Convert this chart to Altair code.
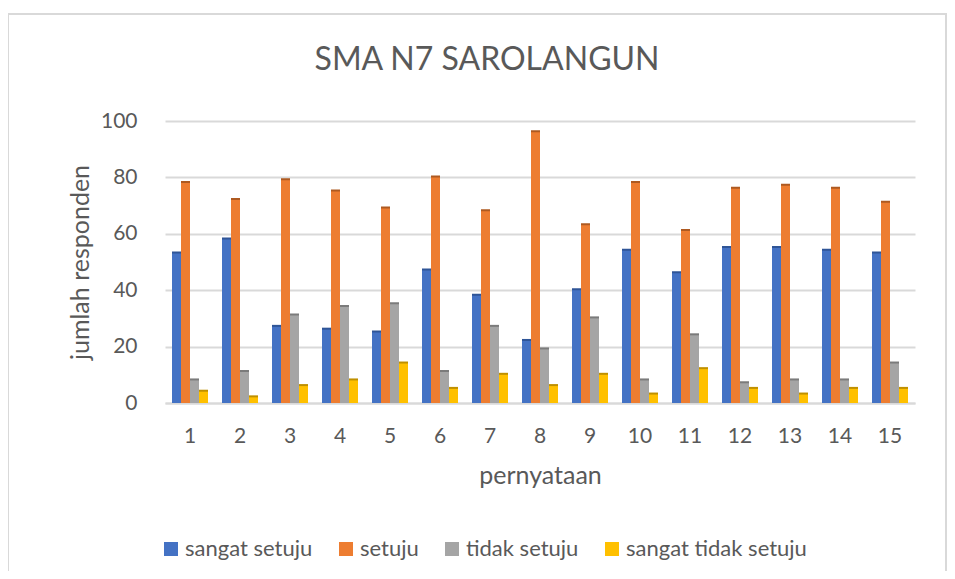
import altair as alt
import pandas as pd

judul = "SMA N7 SAROLANGUN"
pernyataan = [str(i) for i in range(1, 16)]
series = ["sangat setuju", "setuju", "tidak setuju", "sangat tidak setuju"]
colors = ["#4472C4", "#ED7D31", "#A5A5A5", "#FFC000"]
dark_colors = ["#2F5597", "#AE5A21", "#7B7B7B", "#BF9000"]
sangat_setuju = [53, 58, 27, 26, 25, 47, 38, 22, 40, 54, 46, 55, 55, 54, 53]
setuju = [78, 72, 79, 75, 69, 80, 68, 96, 63, 78, 61, 76, 77, 76, 71]
tidak_setuju = [8, 11, 31, 34, 35, 11, 27, 19, 30, 8, 24, 7, 8, 8, 14]
sangat_tidak_setuju = [4, 2, 6, 8, 14, 5, 10, 6, 10, 3, 12, 5, 3, 5, 5]

rows = []
for s, vals in zip(series, [sangat_setuju, setuju, tidak_setuju, sangat_tidak_setuju]):
    for p, v in zip(pernyataan, vals):
        rows.append({"pernyataan": p, "seri": s, "nilai": v})
df = pd.DataFrame(rows)

font = "Lato"
grey = "#595959"

x_enc = alt.X("pernyataan:N", sort=pernyataan, title="pernyataan",
              scale=alt.Scale(paddingInner=0.28, paddingOuter=0.14),
              axis=alt.Axis(labelAngle=0, labelFontSize=21, labelColor=grey, labelFont=font,
                            titleFontSize=25, titleColor=grey, titleFont=font, titleFontWeight="normal",
                            labelPadding=22, titlePadding=17, ticks=False,
                            domainColor="#d9d9d9", domainWidth=2))
y_enc = alt.Y("nilai:Q", title="jumlah responden",
              scale=alt.Scale(domain=[0, 100]),
              axis=alt.Axis(values=[0, 20, 40, 60, 80, 100], labelFontSize=21, labelColor=grey,
                            labelFont=font, titleFontSize=25, titleColor=grey, titleFont=font,
                            titleFontWeight="normal", labelPadding=28, titlePadding=7,
                            ticks=False, domain=False, gridColor="#d9d9d9", gridWidth=2))
xoff = alt.XOffset("seri:N", sort=series)

shadow = alt.Chart(df).mark_bar(xOffset=3, yOffset=-2).encode(
    x=x_enc, xOffset=xoff, y=y_enc,
    color=alt.Color("seri:N", sort=series,
                    scale=alt.Scale(domain=series, range=dark_colors), legend=None),
)

bars = alt.Chart(df).mark_bar().encode(
    x=x_enc, xOffset=xoff, y=y_enc,
    color=alt.Color("seri:N", sort=series, scale=alt.Scale(domain=series, range=colors),
                    legend=alt.Legend(title=None, orient="none", direction="horizontal",
                                      legendX=-5, legendY=417, labelFontSize=22,
                                      labelColor=grey, labelFont=font, symbolType="square",
                                      symbolSize=196, symbolStrokeWidth=0, columnPadding=22,
                                      labelOffset=3, labelLimit=400)),
)

border = alt.Chart(pd.DataFrame({"k": [0]})).mark_rect(
    fill=None, stroke="#d9d9d9", strokeWidth=2
).encode(x=alt.value(-157), x2=alt.value(781), y=alt.value(-107), y2=alt.value(470))

title = alt.Chart(pd.DataFrame({"judul": [judul]})).mark_text(
    font=font, fontSize=32, color=grey, align="center", baseline="middle"
).encode(text="judul:N", x=alt.value(322), y=alt.value(-61))

chart = alt.layer(border, title, shadow, bars).resolve_scale(color="independent").properties(
    width=750, height=282,
    padding={"left": 157, "top": 113, "right": 32, "bottom": 168},
    autosize="none",
).configure_view(stroke=None)

chart.save("out.html", embed_options={"renderer": "svg", "actions": False})
